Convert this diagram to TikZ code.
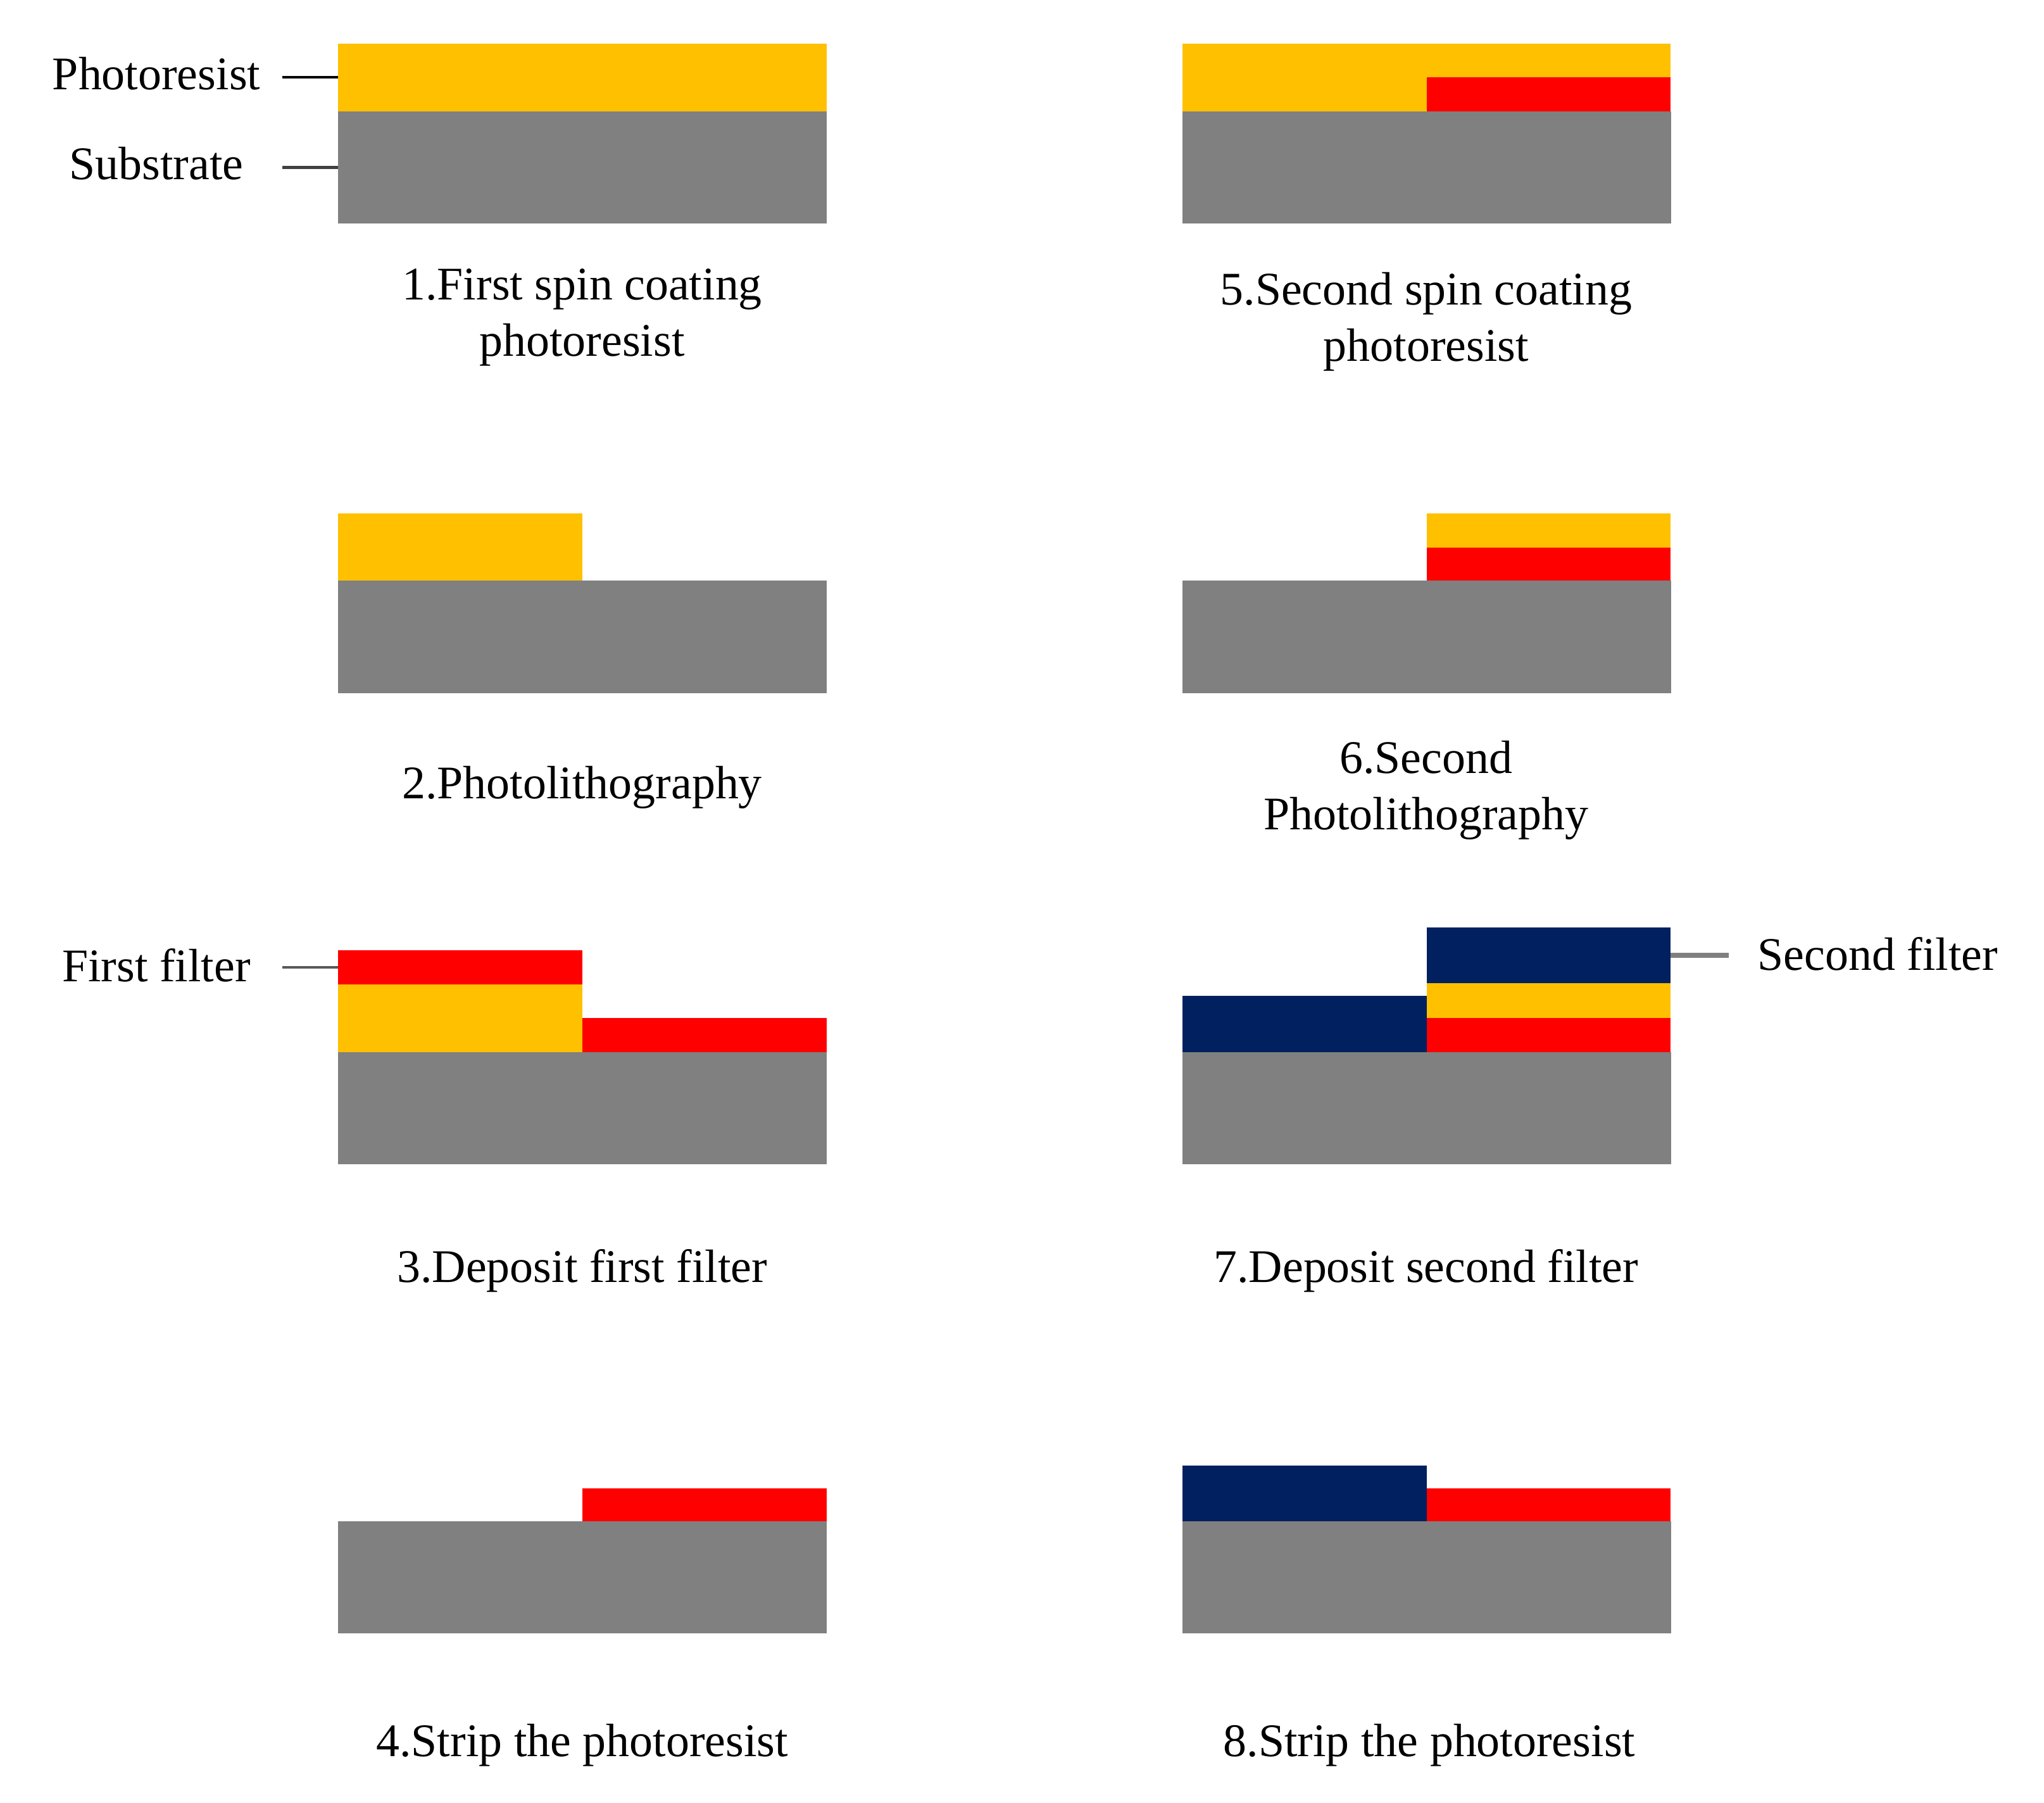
\documentclass[tikz,border=0pt]{standalone}
\usepackage{fontspec}
\setmainfont{Liberation Serif}
\definecolor{resist}{HTML}{FFC000}
\definecolor{filterred}{HTML}{FF0000}
\definecolor{filternavy}{HTML}{002060}
\definecolor{subgray}{HTML}{808080}
\tikzset{
  layer/.style={anchor=north west, inner sep=0pt, outer sep=0pt, draw=none},
  full/.style={layer, minimum width=3.746cm},
  half/.style={layer, minimum width=1.873cm},
  sub/.style={full, fill=subgray, minimum height=0.86cm},
  caption/.style={font=\fontsize{10.2}{12.3}\selectfont, align=center, anchor=base, inner sep=0pt},
  side/.style={font=\fontsize{10.2}{12.3}\selectfont, anchor=base, inner sep=0pt}
}
\begin{document}
\begin{tikzpicture}[x=0.01cm, y=-0.01cm]
    \useasboundingbox (0,0) rectangle (1568,1383);
    % Left column: first filter
    % 1. first spin coating
    \node[full, fill=resist, minimum height=0.52cm] (resA) at (259.3,33.4) {};
    \node[sub] (subA) at (259.3,85.4) {};
    \node[caption] (capA) at (446.6,273) {1.First spin coating\\photoresist};
    
    % 2. photolithography
    \node[half, fill=resist, minimum height=0.515cm] (resB) at (259.3,394) {};
    \node[sub] (subB) at (259.3,445.5) {};
    \node[caption] (capB) at (446.6,612.5) {2.Photolithography};
    
    % 3. deposit first filter
    \node[half, fill=filterred, minimum height=0.26cm] (redC) at (259.3,729) {};
    \node[half, fill=resist, minimum height=0.52cm] (resC) at (259.3,755) {};
    \node[half, fill=filterred, minimum height=0.26cm] (redCr) at (446.6,781) {};
    \node[sub] (subC) at (259.3,807) {};
    \node[caption] (capC) at (446.6,983.6) {3.Deposit first filter};
    
    % 4. strip
    \node[half, fill=filterred, minimum height=0.255cm] (redD) at (446.6,1141.5) {};
    \node[sub] (subD) at (259.3,1167) {};
    \node[caption] (capD) at (446.6,1347.5) {4.Strip the photoresist};
    
    % Right column: second filter
    % 5. second spin coating
    \node[half, fill=resist, minimum height=0.52cm] (resE) at (907,33.4) {};
    \node[half, fill=resist, minimum height=0.26cm] (resEr) at (1094.3,33.4) {};
    \node[half, fill=filterred, minimum height=0.26cm] (redE) at (1094.3,59.4) {};
    \node[sub] (subE) at (907,85.4) {};
    \node[caption] (capE) at (1094,277) {5.Second spin coating\\photoresist};
    
    % 6. second photolithography
    \node[half, fill=resist, minimum height=0.26cm] (resF) at (1094.3,394) {};
    \node[half, fill=filterred, minimum height=0.255cm] (redF) at (1094.3,420) {};
    \node[sub] (subF) at (907,445.5) {};
    \node[caption] (capF) at (1094,636.5) {6.Second\\Photolithography};
    
    % 7. deposit second filter
    \node[half, fill=filternavy, minimum height=0.425cm] (navyG) at (1094.3,711.5) {};
    \node[half, fill=resist, minimum height=0.27cm] (resG) at (1094.3,754) {};
    \node[half, fill=filterred, minimum height=0.26cm] (redG) at (1094.3,781) {};
    \node[half, fill=filternavy, minimum height=0.43cm] (navyGl) at (907,764) {};
    \node[sub] (subG) at (907,807) {};
    \node[caption] (capG) at (1094,983.6) {7.Deposit second filter};
    
    % 8. strip
    \node[half, fill=filternavy, minimum height=0.43cm] (navyH) at (907,1124.4) {};
    \node[half, fill=filterred, minimum height=0.255cm] (redH) at (1094.3,1141.5) {};
    \node[sub] (subH) at (907,1167) {};
    \node[caption] (capH) at (1096.5,1347.5) {8.Strip the photoresist};
    
    % Side labels
    \node[side, minimum width=1.92cm] (lresist) at (120,68.8) {Photoresist};
    \node[side, minimum width=1.92cm] (lsub) at (120,137.6) {Substrate};
    \node[side, minimum width=1.92cm] (lfirst) at (120,752.9) {First filter};
    \node[side, minimum width=2.27cm] (lsecond) at (1440.5,744) {Second filter};
    
    % Leader lines
    \draw[black, line width=0.6pt] (lresist.east |- resA.west) -- (resA.west);
    \draw[black!75, line width=0.6pt] (lsub.east |- subA.west) -- (subA.west);
    \draw[black!65, line width=0.6pt] (lfirst.east |- redC.west) -- (redC.west);
    \draw[subgray, line width=1.1pt] (navyG.east) -- (lsecond.west |- navyG.east);
\end{tikzpicture}
\end{document}
